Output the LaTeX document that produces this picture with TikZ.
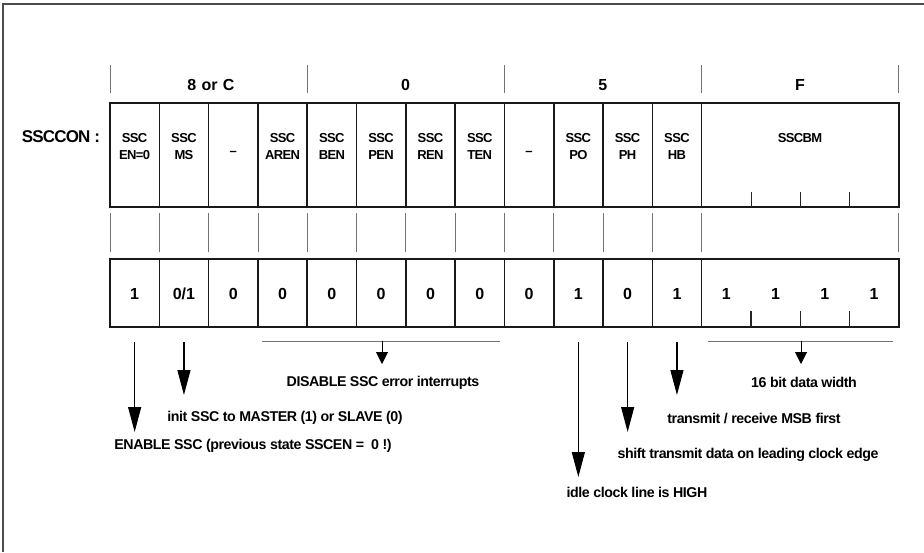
\documentclass[tikz,border=0pt]{standalone}
\usepackage{fontspec}
\setmainfont{Liberation Sans}
\usetikzlibrary{arrows.meta}
\newcommand{\cx}[1]{110+49.3*(#1-0.5)}
\begin{document}
\begin{tikzpicture}[x=1pt,y=-1pt,
  frame/.style={line width=1.6pt, draw=black!90},
  tick/.style={line width=0.8pt, draw=black!55},
  arr/.style={line width=1.2pt, -{Triangle[length=25pt,width=13pt]}},
  sarr/.style={line width=1pt, -{Triangle[length=12pt,width=12pt]}},
  lbl/.style={inner sep=0, font=\fontsize{13}{15}\selectfont\bfseries\addfontfeature{LetterSpace=-5}},
  hdr/.style={inner sep=0, font=\fontsize{16}{18}\selectfont\bfseries},
  val/.style={inner sep=0, font=\fontsize{16}{18}\selectfont\bfseries},
  txt/.style={inner sep=0, font=\fontsize{14.2}{16}\selectfont\bfseries\addfontfeature{LetterSpace=-3}}]
\useasboundingbox (0,0) rectangle (924,552);
% outer frame (top and left edges)
\draw[line width=1.5pt, draw=black!70] (3,552) -- (3,4) -- (924,4);
% header
\foreach \i in {0,4,8,12,16} \draw[tick] ({110+49.3*\i},65) -- ({110+49.3*\i},93);
\node[hdr] (h1) at (211,85) {8\,\,or\,\,C};
\node[hdr] (h2) at (405.5,85) {0};
\node[hdr] (h3) at (602.7,85) {5};
\node[hdr] (h4) at (799.9,85) {F};
\node[inner sep=0, font=\fontsize{17}{19}\selectfont\bfseries\addfontfeature{LetterSpace=-5}] (reg) at (61,137) {SSCCON :};
% register row
\draw[frame] (110,103) rectangle (898.8,207);
\foreach \i in {1,...,12} \draw[frame] ({110+49.3*\i},103) -- ({110+49.3*\i},207);
\foreach \i in {13,14,15} \draw[tick, draw=black!85] ({110+49.3*\i},192) -- ({110+49.3*\i},207);
\foreach \i/\a/\b in {1/SSC/EN=0, 2/SSC/MS, 4/SSC/AREN, 5/SSC/BEN, 6/SSC/PEN, 7/SSC/REN, 8/SSC/TEN, 10/SSC/PO, 11/SSC/PH, 12/SSC/HB} {
  \node[lbl] (t\i) at ({\cx{\i}},138) {\a};
  \node[lbl] (b\i) at ({\cx{\i}},155) {\b};
}
\node[lbl] (d3) at ({\cx{3}},153) {--};
\node[lbl] (d9) at ({\cx{9}},153) {--};
\node[lbl] (bm) at (800,138) {SSCBM};
% middle ticks
\foreach \i in {0,...,12,16} \draw[tick] ({110+49.3*\i},213) -- ({110+49.3*\i},252);
% value row
\draw[frame] (110,259) rectangle (898.8,327);
\foreach \i in {1,...,12} \draw[frame] ({110+49.3*\i},259) -- ({110+49.3*\i},327);
\foreach \i in {13,14,15} \draw[tick, draw=black!85, line width=1.2pt] ({110+49.3*\i},311) -- ({110+49.3*\i},327);
\foreach \i/\v in {1/1, 2/{0/1}, 3/0, 4/0, 5/0, 6/0, 7/0, 8/0, 9/0, 10/1, 11/0, 12/1, 13/1, 14/1, 15/1, 16/1}
  \node[val] (v\i) at ({\cx{\i}},294) {\v};
% descriptions
\node[txt] (dis) at (383,383) {DISABLE SSC error interrupts};
\node[txt] (ini) at (285,418) {init SSC to MASTER (1) or SLAVE (0)};
\node[txt] (ena) at (253,446) {ENABLE SSC (previous state SSCEN =\ \ 0 !)};
\node[txt] (dw) at (804,382) {16 bit data width};
\node[txt] (msb) at (754,418) {transmit / receive MSB first};
\node[txt] (sh) at (748,455) {shift transmit data on leading clock edge};
\node[txt] (idl) at (637,492) {idle clock line is HIGH};
% arrows
\coordinate (s1) at ({\cx{1}},342); \coordinate (e1) at ({\cx{1}},432);
\coordinate (s2) at ({\cx{2}},342); \coordinate (e2) at ({\cx{2}},395);
\coordinate (s10) at ({\cx{10}},342); \coordinate (e10) at ({\cx{10}},477);
\coordinate (s11) at ({\cx{11}},342); \coordinate (e11) at ({\cx{11}},432);
\coordinate (s12) at ({\cx{12}},342); \coordinate (e12) at ({\cx{12}},395);
\draw[arr] (s1) -- (e1);
\draw[arr] (s2) -- (e2);
\draw[arr] (s10) -- (e10);
\draw[arr] (s11) -- (e11);
\draw[arr] (s12) -- (e12);
% brackets
\coordinate (bl1) at (262,341); \coordinate (br1) at (500,341);
\coordinate (bm1) at (382,341); \coordinate (be1) at (382,364);
\draw[tick] (bl1) -- (br1);
\draw[sarr] (bm1) -- (be1);
\coordinate (bl2) at (708,341); \coordinate (br2) at (893,341);
\coordinate (bm2) at (801,341); \coordinate (be2) at (801,364);
\draw[tick] (bl2) -- (br2);
\draw[sarr] (bm2) -- (be2);
\end{tikzpicture}
\end{document}
